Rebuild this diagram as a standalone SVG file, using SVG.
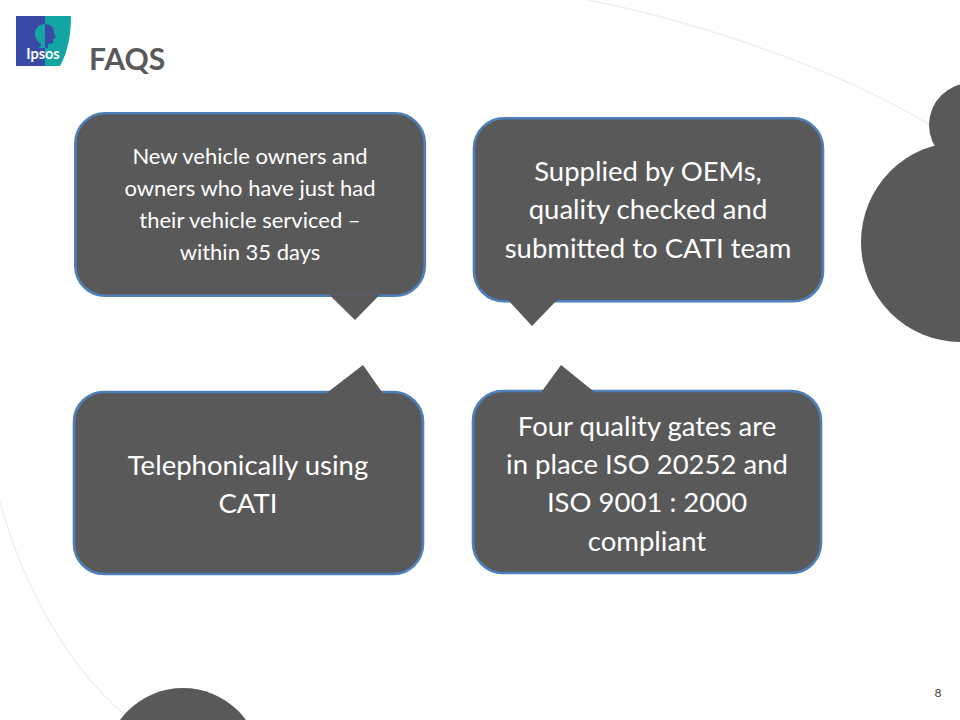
<svg xmlns="http://www.w3.org/2000/svg" width="960" height="720" viewBox="0 0 960 720">
<style>
.blob{fill:#595959}
.arc{fill:none;stroke:#efefef;stroke-width:1.5}
.box{fill:#595959;stroke:#4f7fb8;stroke-width:2.6;stroke-linejoin:round}
.tail{fill:#595959}
text{font-family:"Lato","Open Sans","Liberation Sans",sans-serif;text-anchor:middle;fill:#fff}
.t1{font-size:22px}
.t2{font-size:27.5px}
.title{font-size:30px;font-weight:700;fill:#595959;text-anchor:start}
.num{font-size:12px;fill:#404040}
.logo{font-size:14.5px;font-weight:700}
</style>
<rect width="960" height="720" fill="#fff"/>
<g id="background">
<path class="arc" d="M588 0C700 22 840 70 930 125"/>
<path class="arc" d="M0 502C18 570 60 660 124 714"/>
<circle class="blob" cx="961" cy="242" r="100"/>
<circle class="blob" cx="971" cy="125" r="42"/>
<circle class="blob" cx="183" cy="766" r="78"/>
</g>
<g id="logo">
<path d="M16 16H45V66H16Z" fill="#3a49a6"/>
<path d="M45 16H71C71 34 68 52 60 66H45Z" fill="#12a5a3"/>
<path d="M45 24C39 24 35 28 35 34C35 39 38 42 41 44C41 46 40 47 38 48H45Z" fill="#12a5a3"/>
<path d="M45 24C51 24 54 28 54 33L56 38L53 39V43L48 44V48H45Z" fill="#3a49a6"/>
<text class="logo" x="43" y="59">Ipsos</text>
</g>
<text class="title" x="89" y="70">FAQS</text>
<g id="connectors"></g>
<g id="node-1">
<rect class="box" x="75.3" y="113.3" width="349.5" height="182.5" rx="30"/>
<path class="tail" d="M329 294.5L355 320L380 294.5Z"/>
<text class="t1"><tspan x="250" y="164">New vehicle owners and</tspan><tspan x="250" y="196">owners who have just had</tspan><tspan x="250" y="228">their vehicle serviced –</tspan><tspan x="250" y="260">within 35 days</tspan></text>
</g>
<g id="node-2">
<rect class="box" x="474" y="118.3" width="349" height="183" rx="30"/>
<path class="tail" d="M507 299L532 326L558 299Z"/>
<text class="t2"><tspan x="648" y="181">Supplied by OEMs,</tspan><tspan x="648" y="219">quality checked and</tspan><tspan x="648" y="258">submitted to CATI team</tspan></text>
</g>
<g id="node-3">
<rect class="box" x="74" y="392" width="349" height="182" rx="30"/>
<path class="tail" d="M326 393.5L363 365L383 393.5Z"/>
<text class="t2"><tspan x="248" y="475">Telephonically using</tspan><tspan x="248" y="513">CATI</tspan></text>
</g>
<g id="node-4">
<rect class="box" x="473" y="391" width="348" height="182" rx="30"/>
<path class="tail" d="M541 392.5L561 365L595 392.5Z"/>
<text class="t2"><tspan x="647" y="436">Four quality gates are</tspan><tspan x="647" y="474">in place ISO 20252 and</tspan><tspan x="647" y="512">ISO 9001 : 2000</tspan><tspan x="647" y="551">compliant</tspan></text>
</g>
<text class="num" x="938" y="697">8</text>
</svg>
